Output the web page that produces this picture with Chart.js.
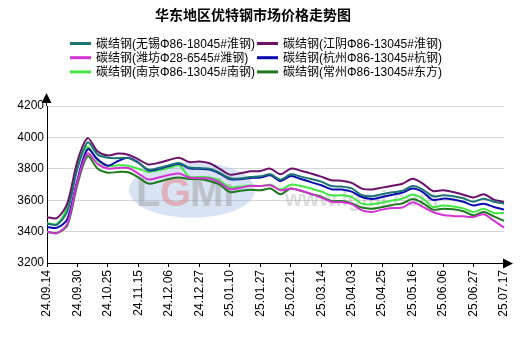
<!DOCTYPE html>
<html>
<head>
<meta charset="utf-8">
<script src="https://cdn.jsdelivr.net/npm/chart.js@4.4.1/dist/chart.umd.min.js"></script>
<style>
    body { margin: 0; background: #fff; }
    #wrap { width: 530px; height: 339px; position: relative; }
</style>
</head>
<body>
<div id="wrap"><canvas id="chart" width="530" height="339"></canvas></div>
<script>
'use strict'

// подписи оси X (каждая третья точка)
const tickDates = ['24.09.14', '24.09.30', '24.10.25', '24.11.15', '24.12.06', '24.12.27', '25.01.10', '25.01.27',
    '25.02.21', '25.03.14', '25.04.03', '25.04.25', '25.05.16', '25.06.06', '25.06.27', '25.07.17'];

const yTicks = [3200, 3400, 3600, 3800, 4000, 4200];

const seriesNames = [
    '碳结钢(无锡Φ86-18045#淮钢)',
    '碳结钢(江阴Φ86-13045#淮钢)',
    '碳结钢(潍坊Φ28-6545#潍钢)',
    '碳结钢(杭州Φ86-13045#杭钢)',
    '碳结钢(南京Φ86-13045#南钢)',
    '碳结钢(常州Φ86-13045#东方)'
];
const seriesColors = ['#1b7373', '#6b106b', '#d433d4', '#0a0ab0', '#44e644', '#1e781e'];

const wuxi = [3450, 3445, 3530, 3800, 3968, 3890, 3870, 3868, 3868, 3838, 3795, 3805, 3822, 3837, 3808, 3805,
    3800, 3775, 3740, 3738, 3748, 3752, 3765, 3731, 3765, 3750, 3735, 3718, 3690, 3687, 3675, 3632,
    3625, 3638, 3650, 3660, 3690, 3668, 3625, 3631, 3625, 3612, 3590, 3610, 3590, 3578];
const jiangyin = [3492, 3487, 3580, 3850, 3995, 3910, 3885, 3897, 3890, 3860, 3828, 3838, 3856, 3871, 3843, 3846,
    3835, 3800, 3763, 3771, 3784, 3786, 3801, 3765, 3801, 3788, 3770, 3750, 3727, 3724, 3710, 3674,
    3668, 3680, 3692, 3705, 3736, 3706, 3659, 3663, 3652, 3635, 3617, 3638, 3604, 3589];
const weifang = [3400, 3390, 3450, 3720, 3898, 3830, 3802, 3805, 3805, 3770, 3732, 3745, 3760, 3770, 3745, 3740,
    3738, 3712, 3670, 3678, 3690, 3690, 3695, 3663, 3674, 3660, 3640, 3617, 3590, 3587, 3575, 3536,
    3525, 3540, 3550, 3553, 3587, 3557, 3525, 3506, 3500, 3497, 3493, 3510, 3470, 3425];
const hangzhou = [3430, 3425, 3480, 3730, 3925, 3860, 3820, 3850, 3870, 3840, 3790, 3800, 3818, 3832, 3804, 3800,
    3795, 3770, 3735, 3733, 3742, 3744, 3759, 3722, 3754, 3735, 3715, 3695, 3670, 3668, 3655, 3620,
    3608, 3620, 3635, 3648, 3674, 3652, 3602, 3610, 3605, 3590, 3567, 3578, 3557, 3540];
const nanjing = [3455, 3450, 3560, 3820, 3940, 3850, 3818, 3822, 3820, 3800, 3780, 3790, 3805, 3822, 3750, 3748,
    3745, 3725, 3680, 3688, 3694, 3690, 3698, 3668, 3699, 3690, 3675, 3655, 3631, 3631, 3620, 3578,
    3574, 3585, 3598, 3610, 3636, 3610, 3557, 3567, 3560, 3548, 3525, 3546, 3518, 3518];
const changzhou = [3398, 3392, 3440, 3700, 3880, 3800, 3775, 3780, 3778, 3745, 3706, 3718, 3735, 3744, 3735, 3735,
    3722, 3700, 3652, 3660, 3667, 3663, 3674, 3638, 3674, 3660, 3640, 3622, 3595, 3595, 3580, 3553,
    3546, 3556, 3570, 3580, 3608, 3582, 3540, 3546, 3542, 3530, 3504, 3525, 3497, 3468];

const allSeries = [wuxi, jiangyin, weifang, hangzhou, nanjing, changzhou];

// метки категорий: дата на каждой третьей точке
const labels = wuxi.map((v, i) => i % 3 === 0 ? tickDates[i / 3] : '');

const FONT = '"Liberation Sans", Arial, "Noto Sans CJK SC", sans-serif';

// заголовок, легенда, водяной знак и стрелки осей
const decorPlugin = {
    id: 'decor',
    beforeDatasetsDraw(chart) {
        const ctx = chart.ctx;
        ctx.save();
        // водяной знак LGMi
        ctx.globalAlpha = 0.35;
        ctx.fillStyle = '#8fb0e0';
        ctx.beginPath();
        ctx.ellipse(192, 190, 63, 28, 0, 0, Math.PI * 2);
        ctx.fill();
        ctx.globalAlpha = 0.5;
        ctx.font = 'bold 40px ' + FONT;
        ctx.textBaseline = 'alphabetic';
        ctx.fillStyle = '#a0a0a0';
        ctx.fillText('L', 136, 206);
        ctx.fillStyle = '#e88080';
        ctx.fillText('G', 160, 206);
        ctx.fillStyle = '#a0a0a0';
        ctx.fillText('Mi', 190, 206);
        ctx.globalAlpha = 0.3;
        ctx.font = 'bold 22px ' + FONT;
        ctx.fillStyle = '#909090';
        ctx.fillText('www.lgmi.com', 285, 206);
        ctx.restore();
    },
    afterDraw(chart) {
        const ctx = chart.ctx;
        const area = chart.chartArea;
        ctx.save();

        ctx.fillStyle = '#000';
        ctx.font = 'bold 14px "Noto Sans CJK SC", sans-serif';
        ctx.textAlign = 'center';
        ctx.textBaseline = 'middle';
        ctx.fillText('华东地区优特钢市场价格走势图', 253, 15);

        ctx.font = '12px ' + FONT;
        ctx.textAlign = 'left';
        chart.data.datasets.forEach((ds, i) => {
            const col = i % 2, row = Math.floor(i / 2);
            const x = col === 0 ? 70 : 257;
            const y = 43.5 + row * 14.2;
            ctx.strokeStyle = ds.borderColor;
            ctx.lineWidth = 3;
            ctx.beginPath();
            ctx.moveTo(x, y);
            ctx.lineTo(x + 21, y);
            ctx.stroke();
            ctx.fillStyle = '#000';
            ctx.fillText(ds.label, x + 26, y + 1);
        });

        // стрелки осей
        const x0 = Math.round(area.left) - 0.5;
        const yb = Math.round(area.bottom) + 0.5;
        ctx.strokeStyle = '#000';
        ctx.lineWidth = 1;
        ctx.beginPath();
        ctx.moveTo(x0, area.top);
        ctx.lineTo(x0, 100);
        ctx.moveTo(area.right, yb);
        ctx.lineTo(506, yb);
        ctx.stroke();
        ctx.fillStyle = '#000';
        ctx.beginPath();
        ctx.moveTo(x0, 93);
        ctx.lineTo(x0 - 5, 103);
        ctx.lineTo(x0 + 5, 103);
        ctx.closePath();
        ctx.fill();
        ctx.beginPath();
        ctx.moveTo(513, yb);
        ctx.lineTo(503, yb - 5);
        ctx.lineTo(503, yb + 5);
        ctx.closePath();
        ctx.fill();
        ctx.restore();
    }
};

const datasets = allSeries.map((s, i) => ({
    label: seriesNames[i],
    data: s,
    borderColor: seriesColors[i],
    backgroundColor: seriesColors[i],
    borderWidth: 2,
    pointRadius: 0,
    tension: 0.3,
    fill: false
}));

new Chart(document.getElementById('chart').getContext('2d'), {
    type: 'line',
    data: { labels: labels, datasets: datasets },
    plugins: [decorPlugin],
    options: {
        responsive: false,
        animation: false,
        layout: { padding: { top: 106, right: 26, bottom: 0, left: 0 } },
        plugins: {
            legend: { display: false },
            title: { display: false },
            tooltip: { enabled: false }
        },
        scales: {
            x: {
                afterFit(scale) { scale.height = 76; },
                border: { display: true, color: '#000', width: 1 },
                grid: {
                    drawOnChartArea: false,
                    tickLength: 4,
                    color: (c) => c.index % 3 === 0 ? '#000' : 'rgba(0,0,0,0)'
                },
                ticks: {
                    autoSkip: false,
                    minRotation: 90,
                    maxRotation: 90,
                    padding: 3,
                    color: '#000',
                    font: { family: FONT, size: 12 }
                }
            },
            y: {
                min: 3200,
                max: 4200,
                afterFit(scale) { scale.width = 47; },
                afterBuildTicks(scale) { scale.ticks = yTicks.map(v => ({ value: v })); },
                border: { display: true, color: '#000', width: 1 },
                grid: { color: '#d6d6d6', drawTicks: false },
                ticks: {
                    padding: 3,
                    color: '#000',
                    font: { family: FONT, size: 12 },
                    callback: (v) => String(v)
                }
            }
        }
    }
});
</script>
</body>
</html>
